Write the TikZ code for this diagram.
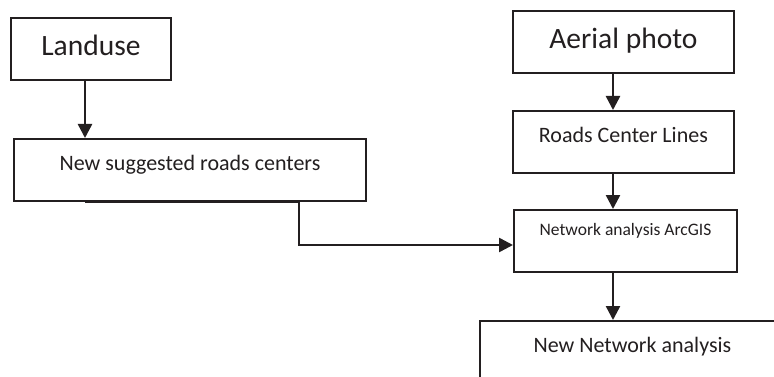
\documentclass[tikz,border=0pt]{standalone}
\usepackage{fontspec}
\setmainfont{Carlito}
\usetikzlibrary{positioning, arrows.meta, calc}
\definecolor{flowline}{RGB}{35,31,32}
\tikzset{
    procbox/.style={rectangle, draw=flowline, line width=1.9pt, inner sep=0pt, anchor=north west, minimum height=62pt, align=center, text=flowline},
    headbox/.style={procbox, text height=38pt, text depth=24pt, font=\fontsize{29.5}{34}\selectfont},
    stepbox/.style={procbox, text height=32pt, text depth=30pt, font=\fontsize{22}{26}\selectfont},
    toolbox/.style={procbox, text height=26pt, text depth=36pt, font=\fontsize{17.5}{21}\selectfont},
    arr/.style={-{Triangle[length=14pt, width=14pt]}, line width=2.5pt, color=flowline}
}
\begin{document}
\begin{tikzpicture}[x=1pt, y=-1pt]
    \clip (0,0) rectangle (774,377);
    \fill[white] (0,0) rectangle (774,377);
    % left branch
    \node[headbox, minimum width=160pt] (lu) at (10,17) {Landuse};
    \node[stepbox, minimum width=352pt] (ns) at (13,138) {New suggested roads centers};
    % right branch
    \node[headbox, minimum width=221pt] (ap) at (512,10) {Aerial photo};
    \node[stepbox, minimum width=221pt] (rc) at (512,110) {Roads Center Lines};
    \node[toolbox, minimum width=223pt] (na) at (513,209) {Network analysis ArcGIS};
    \node[stepbox, minimum width=305pt] (nn) at (479,320) {New Network analysis};
    \coordinate (lspine) at (85,0);
    \coordinate (rspine) at (613,0);
    \coordinate (bend) at (299,245);
    \draw[arr] (lu.south -| lspine) -- (ns.north -| lspine);
    \draw[arr] (ap.south -| rspine) -- (rc.north -| rspine);
    \draw[arr] (rc.south -| rspine) -- (na.north -| rspine);
    \draw[arr] (na.south -| rspine) -- (nn.north -| rspine);
    \draw[arr] (ns.south -| lspine) -- (ns.south -| bend) -- (bend) -- (bend -| na.west);
\end{tikzpicture}
\end{document}
